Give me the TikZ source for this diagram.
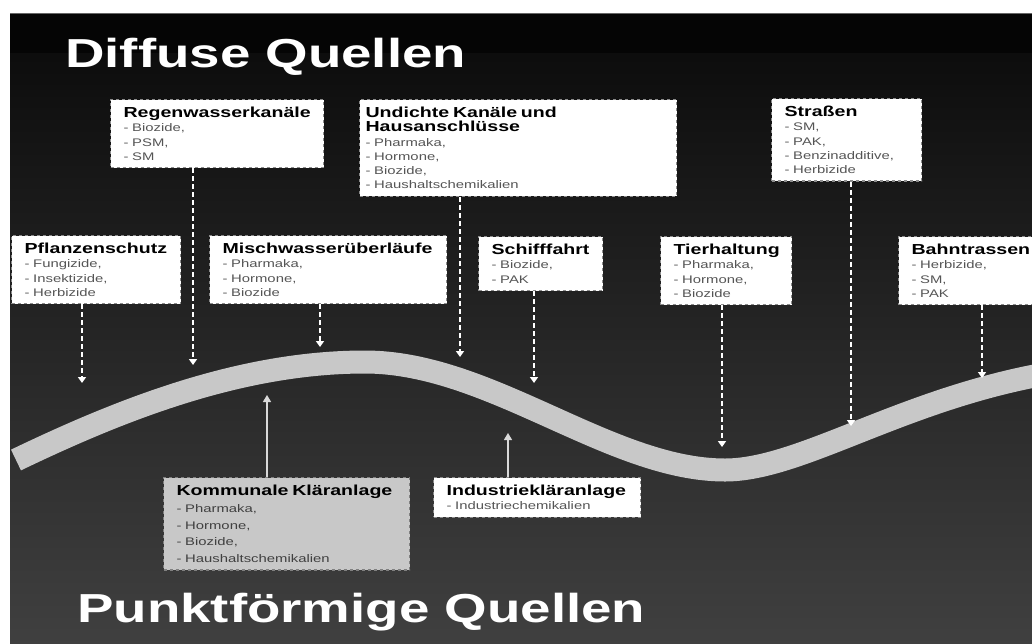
\documentclass[tikz,border=0pt]{standalone}
\usepackage{fontspec}
\newfontfamily\widesans[FakeStretch=1.35]{Liberation Sans}
\usetikzlibrary{arrows.meta}
\definecolor{itemgray}{HTML}{555555}
\definecolor{roadgray}{HTML}{C8C8C8}
\definecolor{bordergray}{HTML}{8C8C8C}
\newcommand\qkopf[1]{{\bfseries\fontsize{14.5}{14.2}\selectfont\color{black}#1}}

\begin{document}
\begin{tikzpicture}[x=1pt, y=-1pt,
    quelle/.style={draw=bordergray, dashed, line width=1.2pt, fill=white, anchor=north west,
      align=left, inner xsep=13pt, inner ysep=7.5pt, text=itemgray,
      font=\widesans\fontsize{11}{14.2}\selectfont},
    titel/.style={text=white, anchor=base west, inner sep=0pt,
      font=\widesans\bfseries\fontsize{40.5}{48}\selectfont},
    eintrag/.style={draw=white, line width=1.8pt, dash pattern=on 5pt off 3pt,
      -{Triangle[width=8pt,length=6pt]}},
    zufluss/.style={draw=white!85!black, line width=1.2pt, -{Triangle[width=8pt,length=7pt]}}]
    \useasboundingbox (0,0) rectangle (1032,643);
    \fill[white] (0,0) rectangle (1032,643);
    \fill[black!98] (10,13) rectangle (1032,53);
    \shade[top color=black!95, bottom color=black!75] (10,53) rectangle (1032,643);
    \draw[black!60, line width=1.5pt] (10,13.5) -- (1032,13.5);

    \draw[roadgray, line width=23pt] (16,460) .. controls (120,410) and (240,362) .. (365,362)
      .. controls (490,362) and (610,470) .. (725,470)
      .. controls (800,470) and (900,400) .. (1045,374);

    \node[titel] (diffus) at (65,67) {Diffuse Quellen};
    \node[titel] (punkt) at (77,622) {Punktförmige Quellen};

    \node[quelle, text width=187pt] (regen) at (110,99) {\qkopf{Regenwasserkanäle}\\- Biozide,\\- PSM,\\- SM};
    \node[quelle, inner xsep=6pt, text width=305pt] (undicht) at (359,99) {\qkopf{Undichte Kanäle und}\\\qkopf{Hausanschlüsse}\\- Pharmaka,\\- Hormone,\\- Biozide,\\- Haushaltschemikalien};
    \node[quelle, text width=124pt] (strasse) at (771,98) {\qkopf{Straßen}\\- SM,\\- PAK,\\- Benzinadditive,\\- Herbizide};
    \node[quelle, text width=143pt] (pfl) at (11,235) {\qkopf{Pflanzenschutz}\\- Fungizide,\\- Insektizide,\\- Herbizide};
    \node[quelle, text width=211pt] (misch) at (209,235) {\qkopf{Mischwasserüberläufe}\\- Pharmaka,\\- Hormone,\\- Biozide};
    \node[quelle, text width=98pt] (schiff) at (478,236) {\qkopf{Schifffahrt}\\- Biozide,\\- PAK};
    \node[quelle, text width=105pt] (tier) at (660,236) {\qkopf{Tierhaltung}\\- Pharmaka,\\- Hormone,\\- Biozide};
    \node[quelle, text width=144pt] (bahn) at (898,236) {\qkopf{Bahntrassen}\\- Herbizide,\\- SM,\\- PAK};
    \node[quelle, fill=roadgray, draw=black!50, text=black!75, text width=220pt,
      font=\widesans\fontsize{11}{16.7}\selectfont] (kommunal) at (163,477) {\qkopf{Kommunale Kläranlage}\\- Pharmaka,\\- Hormone,\\- Biozide,\\- Haushaltschemikalien};
    \node[quelle, text width=181pt] (industrie) at (433,477) {\qkopf{Industriekläranlage}\\- Industriechemikalien};

    \coordinate (z-pfl) at (82,383);
    \coordinate (z-regen) at (193,365);
    \coordinate (z-misch) at (320,347);
    \coordinate (z-undicht) at (460,357);
    \coordinate (z-schiff) at (534,383);
    \coordinate (z-tier) at (722,447);
    \coordinate (z-strasse) at (851,426);
    \coordinate (z-bahn) at (982,378);
    \coordinate (z-kommunal) at (267,395);
    \coordinate (z-industrie) at (508,433);

    \draw[eintrag] (pfl.south -| z-pfl) -- (z-pfl);
    \draw[eintrag] (regen.south -| z-regen) -- (z-regen);
    \draw[eintrag] (misch.south -| z-misch) -- (z-misch);
    \draw[eintrag] (undicht.south -| z-undicht) -- (z-undicht);
    \draw[eintrag] (schiff.south -| z-schiff) -- (z-schiff);
    \draw[eintrag] (tier.south -| z-tier) -- (z-tier);
    \draw[eintrag] (strasse.south -| z-strasse) -- (z-strasse);
    \draw[eintrag] (bahn.south -| z-bahn) -- (z-bahn);
    \draw[zufluss] (kommunal.north -| z-kommunal) -- (z-kommunal);
    \draw[zufluss] (industrie.north -| z-industrie) -- (z-industrie);
\end{tikzpicture}
\end{document}
